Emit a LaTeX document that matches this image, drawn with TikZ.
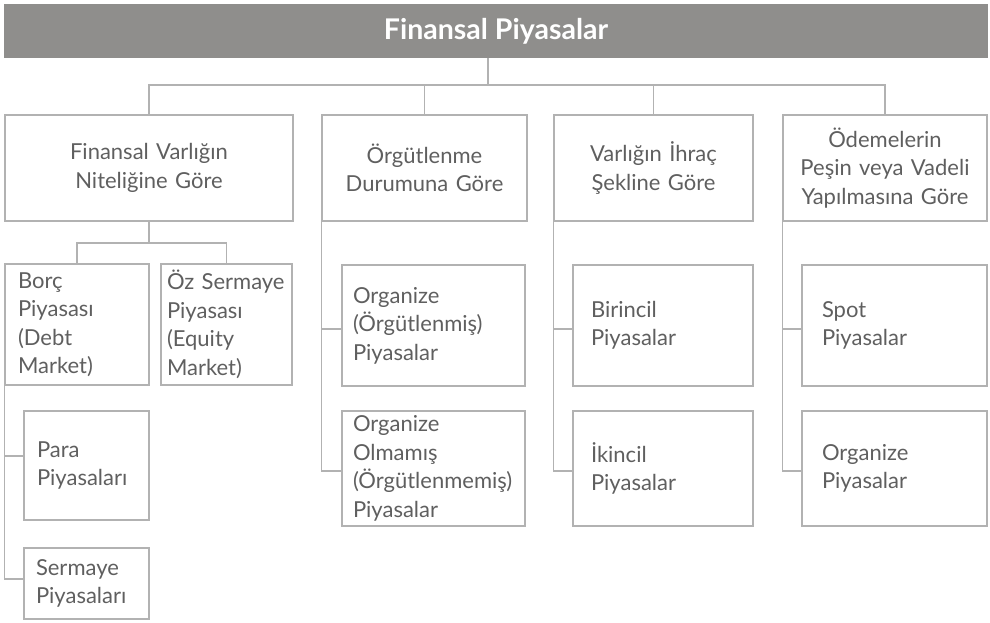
\documentclass[tikz,border=0pt]{standalone}
\usepackage{fontspec}
\setmainfont{Lato}
\hyphenpenalty=10000
\exhyphenpenalty=10000
\definecolor{banner}{RGB}{143,142,140}
\definecolor{linegray}{RGB}{178,178,178}
\definecolor{textgray}{RGB}{95,95,95}
\tikzset{
  conn/.style={draw=linegray, line width=1.2pt},
  bx/.style={draw=linegray, line width=1.2pt, rectangle, inner ysep=0pt, text=textgray,
    font=\fontsize{22}{28.5}\selectfont},
  cbox/.style 2 args={bx, align=center, minimum width=#1, minimum height=#2, text width=#1-16pt, inner xsep=8pt},
  lbox/.style n args={3}{bx, align=left, minimum height=#2, text width=#1-2*#3, inner xsep=#3},
}
\begin{document}
\begin{tikzpicture}[x=1pt,y=-1pt]
\useasboundingbox (0,0) rectangle (990,622);
% banner
\node[fill=banner, minimum width=984pt, minimum height=54pt, inner sep=0pt, text=white,
  font=\fontsize{28.5}{32}\selectfont\bfseries] (root) at (496,31) {Finansal Piyasalar};
% level 1
\node[cbox={288pt}{106pt}] (A) at (149,168) {Finansal Varlığın\\Niteliğine Göre};
\node[cbox={205pt}{106pt}] (B) at (424.5,168) {Örgütlenme\\Durumuna Göre};
\node[cbox={199pt}{106pt}] (C) at (653.5,168) {Varlığın İhraç\\Şekline Göre};
\node[cbox={204pt}{106pt}] (D) at (885,168) {Ödemelerin\\Peşin veya Vadeli\\Yapılmasına Göre};
% level 2 under A
\node[lbox={144pt}{121pt}{13pt}] (E) at (77,324.5) {Borç\\Piyasası\\(Debt\\Market)};
\node[lbox={131pt}{121pt}{6pt}] (F) at (226.5,324.5) {\mbox{Öz Sermaye}\\Piyasası\\(Equity\\Market)};
\node[lbox={125pt}{109pt}{13pt}] (G) at (86.5,465.5) {Para\\Piyasaları};
\node[lbox={125pt}{71pt}{12pt}] (H) at (86.5,583.5) {Sermaye\\Piyasaları};
% under B
\node[lbox={183pt}{121pt}{11pt}] (I) at (433.5,325.5) {Organize\\(Örgütlenmiş)\\Piyasalar};
\node[lbox={183pt}{115pt}{11pt}] (J) at (433.5,468.5) {Organize\\Olmamış\\(Örgütlenmemiş)\\Piyasalar};
% under C
\node[lbox={180pt}{121pt}{18pt}] (K) at (663,325.5) {Birincil\\Piyasalar};
\node[lbox={180pt}{115pt}{18pt}] (L) at (663,468.5) {İkincil\\Piyasalar};
% under D
\node[lbox={185pt}{121pt}{20pt}] (M) at (894.5,325.5) {Spot\\Piyasalar};
\node[lbox={185pt}{115pt}{20pt}] (N) at (894.5,468.5) {Organize\\Piyasalar};
% connectors
\coordinate (rootout) at (488,58);
\coordinate (hub) at (488,85);
\draw[conn] (rootout) -- (hub);
\draw[conn] (A.north) |- (hub) -| (D.north);
\draw[conn] (B.north) -- (B.north |- hub);
\draw[conn] (C.north) -- (C.north |- hub);
\coordinate (split) at (149,243);
\draw[conn] (A.south) -- (split);
\draw[conn] (E.north) |- (split) -| (F.north);
\draw[conn] (E.south west) |- ([yshift=9.5pt]G.west);
\draw[conn] (E.south west) |- ([yshift=4.5pt]H.west);
\draw[conn] (B.south west) |- ([yshift=-3.5pt]I.west);
\draw[conn] (B.south west) |- ([yshift=-2.5pt]J.west);
\draw[conn] (C.south west) |- ([yshift=-3.5pt]K.west);
\draw[conn] (C.south west) |- ([yshift=-2.5pt]L.west);
\draw[conn] (D.south west) |- ([yshift=-3.5pt]M.west);
\draw[conn] (D.south west) |- ([yshift=-2.5pt]N.west);
\end{tikzpicture}
\end{document}
